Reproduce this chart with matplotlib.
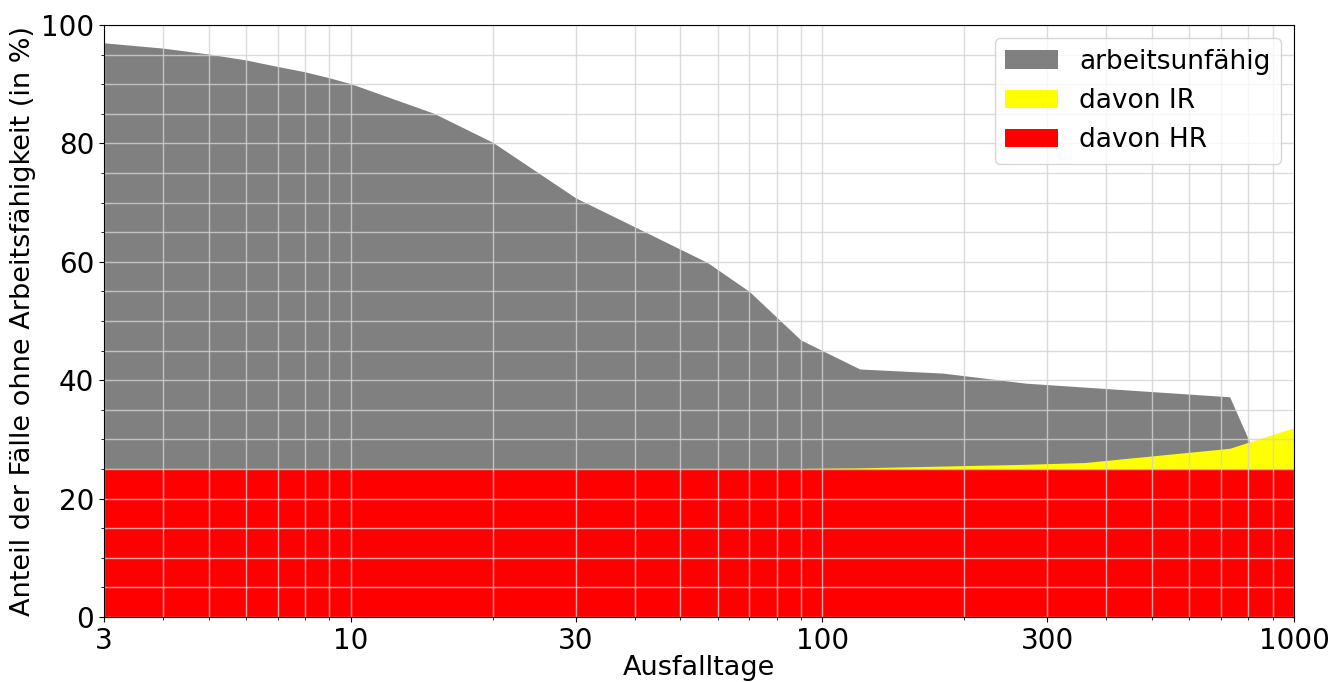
import matplotlib.pyplot as plt
from matplotlib.ticker import FixedLocator, FixedFormatter, MultipleLocator, NullFormatter

# Ausfalltage und Anteile (in %)
tage_au = [3, 4, 5, 6, 7, 8, 9, 10, 15, 20, 30, 57, 70, 90, 120, 180, 270, 730, 1000]
arbeitsunfaehig = [97.0, 96.1, 95.1, 94.1, 93.0, 92.1, 91.1, 90.1, 85.1, 80.2, 70.8,
                   59.9, 55.0, 46.8, 41.9, 41.2, 39.5, 37.2, 12.5]

tage_ir = [3, 30, 90, 120, 180, 270, 360, 730, 1000]
davon_ir = [25.1, 25.1, 25.1, 25.2, 25.5, 25.8, 26.1, 28.5, 32.0]

tage_hr = [3, 1000]
davon_hr = [25.0, 25.0]

x_ticks = [3, 10, 30, 100, 300, 1000]
x_minor = [4, 5, 6, 7, 8, 9, 20, 40, 50, 60, 70, 80, 90,
           200, 400, 500, 600, 700, 800, 900]

fs_tick = 20
fs = 19.5
fig = plt.figure(figsize=(13.3, 6.82), dpi=100)
ax = fig.add_axes([0.0782, 0.0953, 0.8948, 0.868])

ax.fill_between(tage_au, 0, arbeitsunfaehig, color='gray', lw=0, label='arbeitsunfähig')
ax.fill_between(tage_ir, 0, davon_ir, color='yellow', lw=0, label='davon IR')
ax.fill_between(tage_hr, 0, davon_hr, color='red', lw=0, label='davon HR')

ax.set_xscale('log')
ax.set_xlim(3, 1000)
ax.set_ylim(0, 100)
ax.xaxis.set_major_locator(FixedLocator(x_ticks))
ax.xaxis.set_major_formatter(FixedFormatter([str(t) for t in x_ticks]))
ax.xaxis.set_minor_locator(FixedLocator(x_minor))
ax.xaxis.set_minor_formatter(NullFormatter())
ax.yaxis.set_major_locator(MultipleLocator(20))
ax.yaxis.set_minor_locator(MultipleLocator(5))
ax.tick_params(labelsize=fs_tick)

ax.grid(which='both', color='lightgray', alpha=0.8, lw=1)

ax.set_xlabel('Ausfalltage', fontsize=fs, labelpad=0.5)
ax.set_ylabel('Anteil der Fälle ohne Arbeitsfähigkeit (in %)', fontsize=fs)
ax.legend(loc='upper right', fontsize=19)

fig.savefig('out.png')
